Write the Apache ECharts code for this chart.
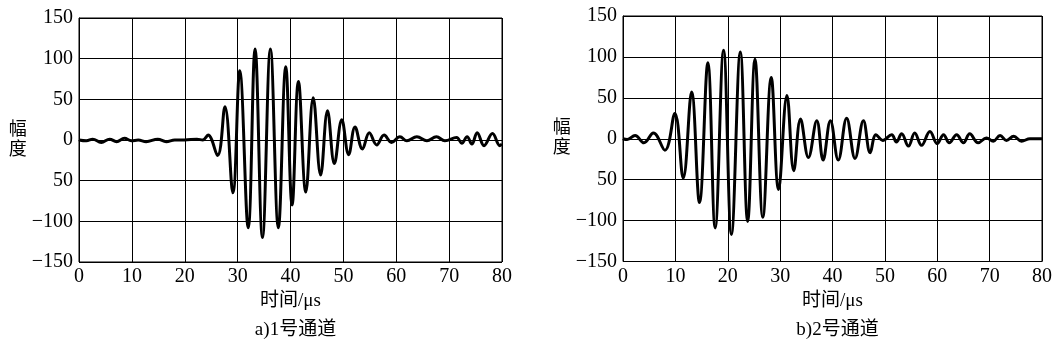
<!DOCTYPE html>
<html>
<head>
<meta charset="utf-8">
<script src="https://cdn.jsdelivr.net/npm/echarts@6/dist/echarts.min.js"></script>
<style>html,body{margin:0;padding:0;background:#fff}#c{width:1058px;height:341px}</style>
</head>
<body>
<div id="c"></div>
<script>
// ---- data ----
const xTickLabels = ['0','10','20','30','40','50','60','70','80'];
const yTickLabels = ['\u2212150','\u2212100','50','0','50','100','150'];
const xAxisTitle = '时间/\u03bcs';
const yAxisTitle = '幅\n度';
const panelTitles = ['a)1号通道', 'b)2号通道'];

const time1 = [0,1.4,2.6,4.2,5.8,7.1,8.6,9.9,11.2,12.7,14.9,16.5,18.1,20.0,22.3,23.4,24.4,26.2,27.6,29.1,30.4,32.0,33.3,34.7,36.2,37.7,39.1,40.3,41.5,42.9,44.3,45.7,47.0,48.3,49.7,51.0,52.2,53.6,54.9,56.3,57.7,59.1,60.7,62.0,63.9,65.8,67.6,69.2,71.4,72.4,73.4,74.3,75.3,76.6,78.2,79.6,80];
const amp1  = [0,-1,1,-3,1,-2,2,-1,0,-2,1,-2,0,0,1,0,6,-19,41,-65,85,-108,112,-120,112,-108,90,-80,72,-64,52,-43,36,-29,25,-18,16,-11,9,-6,6,-3,4,-1,4,-1,4,-1,3,-4,4,-5,9,-7,8,-7,-5];

const time2 = [0,0.8,2.3,4.0,5.8,8.0,9.9,11.5,13.1,14.6,16.2,17.6,19.2,20.7,22.4,23.8,25.2,26.7,28.3,29.7,31.3,32.6,33.9,35.4,37.0,38.2,39.6,41.1,42.7,44.3,45.9,47.2,48.3,49.6,51.3,52.2,53.2,54.5,55.7,57.0,58.6,60.0,61.2,62.3,63.7,65.0,66.2,67.8,69.4,70.7,72.0,73.2,74.6,76.1,77.7,80];
const amp2  = [0,-1,4,-5,7,-14,31,-48,57,-78,93,-109,108,-117,106,-101,97,-96,75,-62,53,-39,24,-23,22,-26,22,-26,25,-24,22,-17,5,-2,5,-4,6,-9,7,-8,9,-6,5,-5,5,-5,6,-5,1,-3,4,-2,3,-3,0,0];

const pair = (t, a) => t.map((x, i) => [x, a[i]]);

const FONT = '"Liberation Serif", "Times New Roman", "Noto Sans CJK SC", serif';
const grids = [
  {left: 79, top: 18, width: 423, height: 244},
  {left: 623, top: 16, width: 419, height: 245.5}
];
const yNameGap = [52, 45];

const chart = echarts.init(document.getElementById('c'), null, {renderer: 'canvas'});
const option = {
  animation: false,
  backgroundColor: '#fff',
  title: panelTitles.map((t, i) => ({
    text: t,
    left: grids[i].left + grids[i].width / 2,
    textAlign: 'center',
    top: 316,
    textStyle: {fontFamily: FONT, fontSize: 19, fontWeight: 'normal', color: '#000'}
  })),
  grid: grids.map(g => Object.assign({show: true, borderColor: '#000', borderWidth: 1, backgroundColor: 'transparent'}, g)),
  xAxis: grids.map((g, i) => ({
    type: 'value', gridIndex: i, min: 0, max: 80, interval: 10,
    name: xAxisTitle, nameLocation: 'middle', nameGap: 26,
    nameTextStyle: {fontFamily: FONT, fontSize: 19, color: '#000'},
    axisLine: {show: true, lineStyle: {color: '#000', width: 1}},
    axisTick: {show: false},
    axisLabel: {
      margin: 5, color: '#000', fontFamily: FONT, fontSize: 20,
      formatter: v => xTickLabels[Math.round(v / 10)]
    },
    splitLine: {show: true, lineStyle: {color: '#000', width: 1}}
  })),
  yAxis: grids.map((g, i) => ({
    type: 'value', gridIndex: i, min: -150, max: 150, interval: 50,
    name: yAxisTitle, nameLocation: 'middle', nameRotate: 0, nameGap: yNameGap[i],
    nameTextStyle: {fontFamily: FONT, fontSize: 18, color: '#000', lineHeight: 20},
    axisLine: {show: true, lineStyle: {color: '#000', width: 1}},
    axisTick: {show: false},
    axisLabel: {
      margin: 6, color: '#000', fontFamily: FONT, fontSize: 20,
      formatter: v => yTickLabels[Math.round((v + 150) / 50)]
    },
    splitLine: {show: true, lineStyle: {color: '#000', width: 1}}
  })),
  series: [
    {type: 'line', xAxisIndex: 0, yAxisIndex: 0, data: pair(time1, amp1), smooth: 0.4,
     showSymbol: false, symbol: 'none', lineStyle: {color: '#000', width: 3}, z: 5},
    {type: 'line', xAxisIndex: 1, yAxisIndex: 1, data: pair(time2, amp2), smooth: 0.4,
     showSymbol: false, symbol: 'none', lineStyle: {color: '#000', width: 3}, z: 5}
  ]
};
chart.setOption(option);
</script>
</body>
</html>
